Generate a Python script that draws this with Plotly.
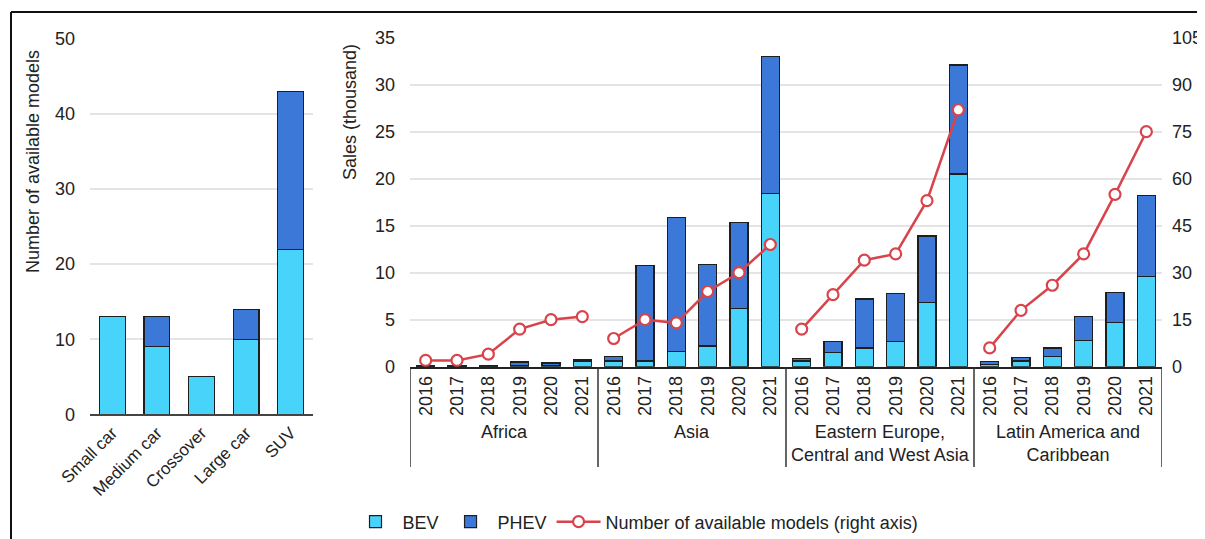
import plotly.graph_objects as go

# ---------------- data ----------------
segments = ["Small car", "Medium car", "Crossover", "Large car", "SUV"]
seg_bev = [13, 9, 5, 10, 22]
seg_phev = [0, 4, 0, 4, 21]

regions = ["Africa", "Asia", "Eastern Europe,<br>Central and West Asia", "Latin America and<br>Caribbean"]
years = ["2016", "2017", "2018", "2019", "2020", "2021"]

bev_africa = [0.05, 0.05, 0.05, 0.15, 0.1, 0.6]
phev_africa = [0.05, 0.05, 0.1, 0.35, 0.3, 0.2]
bev_asia = [0.6, 0.6, 1.6, 2.2, 6.2, 18.4]
phev_asia = [0.5, 10.2, 14.3, 8.7, 9.1, 14.6]
bev_eecwa = [0.6, 1.5, 2.0, 2.7, 6.8, 20.5]
phev_eecwa = [0.3, 1.2, 5.2, 5.1, 7.1, 11.6]
bev_lac = [0.25, 0.6, 1.1, 2.8, 4.7, 9.6]
phev_lac = [0.3, 0.4, 0.9, 2.5, 3.2, 8.6]

models_africa = [2, 2, 4, 12, 15, 16]
models_asia = [9, 15, 14, 24, 30, 39]
models_eecwa = [12, 23, 34, 36, 53, 82]
models_lac = [6, 18, 26, 36, 55, 75]

bev_all = [bev_africa, bev_asia, bev_eecwa, bev_lac]
phev_all = [phev_africa, phev_asia, phev_eecwa, phev_lac]
models_all = [models_africa, models_asia, models_eecwa, models_lac]

# ---------------- styling ----------------
W, H = 1205, 539
OFF = 8  # page body margin offset
C_BEV = "#48D3FA"
C_PHEV = "#3C78D8"
C_LINE = "#D9434B"
OUTLINE = "#1e1e1e"
FONT = "Liberation Sans, Arial, sans-serif"
FS = 18
TXT = "#222222"


def px_x(x):
    return (x - OFF) / W


def px_y(y):
    return (H - (y - OFF)) / H


fig = go.Figure()

# left chart
fig.add_trace(go.Bar(x=segments, y=seg_bev, marker=dict(color=C_BEV, line=dict(color=OUTLINE, width=1.2)),
                     xaxis="x", yaxis="y", showlegend=False, name="BEV"))
fig.add_trace(go.Bar(x=segments, y=seg_phev, marker=dict(color=C_PHEV, line=dict(color=OUTLINE, width=1.2)),
                     xaxis="x", yaxis="y", showlegend=False, name="PHEV"))

# right chart
n = len(years)
idx = list(range(len(regions) * n))
bev_flat = [v for r in bev_all for v in r]
phev_flat = [v for r in phev_all for v in r]
fig.add_trace(go.Bar(x=idx, y=bev_flat, name="BEV",
                     marker=dict(color=C_BEV, line=dict(color=OUTLINE, width=1.2)),
                     xaxis="x2", yaxis="y2"))
fig.add_trace(go.Bar(x=idx, y=phev_flat, name="PHEV",
                     marker=dict(color=C_PHEV, line=dict(color=OUTLINE, width=1.2)),
                     xaxis="x2", yaxis="y2"))

for g, vals in enumerate(models_all):
    fig.add_trace(go.Scatter(
        x=idx[g * n:(g + 1) * n], y=vals, mode="lines+markers",
        name="Number of available models (right axis)",
        legendgroup="models", showlegend=(g == 0),
        line=dict(color=C_LINE, width=2.5),
        marker=dict(symbol="circle", size=11, color="white", line=dict(color=C_LINE, width=2.2)),
        xaxis="x2", yaxis="y3"))

shapes = []
# group dividers
for k in range(len(regions) + 1):
    xv = k * n - 0.5
    shapes.append(dict(type="line", xref="x2", yref="paper", x0=xv, x1=xv,
                       y0=px_y(367), y1=px_y(467), line=dict(color="#333333", width=1.5)))
# outer frame
shapes.append(dict(type="line", xref="paper", yref="paper", x0=px_x(11), x1=1.0,
                   y0=px_y(12), y1=px_y(12), line=dict(color="#111111", width=2)))
shapes.append(dict(type="line", xref="paper", yref="paper", x0=px_x(11), x1=px_x(11),
                   y0=px_y(12), y1=0, line=dict(color="#111111", width=2)))

annotations = []
for g, r in enumerate(regions):
    annotations.append(dict(text=r, xref="x2", yref="paper", x=g * n + (n - 1) / 2, y=px_y(420),
                            xanchor="center", yanchor="top", showarrow=False,
                            font=dict(family=FONT, size=FS, color=TXT)))
annotations.append(dict(text="Number of available models", textangle=-90, xref="paper", yref="paper",
                        x=px_x(33), y=px_y(162), xanchor="center", yanchor="middle", showarrow=False,
                        font=dict(family=FONT, size=FS, color=TXT)))
annotations.append(dict(text="Sales (thousand)", textangle=-90, xref="paper", yref="paper",
                        x=px_x(350), y=px_y(112), xanchor="center", yanchor="middle", showarrow=False,
                        font=dict(family=FONT, size=FS, color=TXT)))

grid = "#E4E4E4"
fig.update_layout(
    width=W, height=H,
    margin=dict(l=0, r=0, t=0, b=0, autoexpand=False),
    paper_bgcolor="white", plot_bgcolor="white",
    barmode="stack", bargap=0.42,
    font=dict(family=FONT, size=FS, color=TXT),
    xaxis=dict(domain=[px_x(90), px_x(313)], anchor="y", type="category", tickangle=-45,
               showline=True, linecolor="#444444", linewidth=2, ticks="", showgrid=False,
               tickfont=dict(size=FS - 1), automargin=False),
    yaxis=dict(domain=[px_y(414.3), px_y(39)], anchor="x", range=[0, 50], dtick=10,
               showgrid=True, gridcolor=grid, gridwidth=1.5, zeroline=False, showline=False,
               ticks="", ticklabelstandoff=14, automargin=False),
    xaxis2=dict(domain=[px_x(410), px_x(1162)], anchor="y2", range=[-0.5, len(idx) - 0.5],
                tickmode="array", tickvals=idx, ticktext=[y for _ in regions for y in years],
                tickangle=-90, showline=True, linecolor="#222222", linewidth=2, ticks="",
                showgrid=False, zeroline=False, automargin=False),
    yaxis2=dict(domain=[px_y(366.7), px_y(37.7)], anchor="x2", range=[0, 35], dtick=5,
                showgrid=True, gridcolor=grid, gridwidth=1.5, zeroline=False, showline=False,
                ticks="", ticklabelstandoff=14, automargin=False),
    yaxis3=dict(overlaying="y2", anchor="x2", side="right", range=[0, 105], dtick=15,
                showgrid=False, zeroline=False, showline=False, ticks="", ticklabelstandoff=9,
                automargin=False),
    legend=dict(orientation="h", x=px_x(636), xanchor="center", y=px_y(522), yanchor="middle",
                font=dict(size=FS), bgcolor="rgba(0,0,0,0)", traceorder="normal", itemwidth=44),
    shapes=shapes,
    annotations=annotations,
)

fig.write_html("out.html")
